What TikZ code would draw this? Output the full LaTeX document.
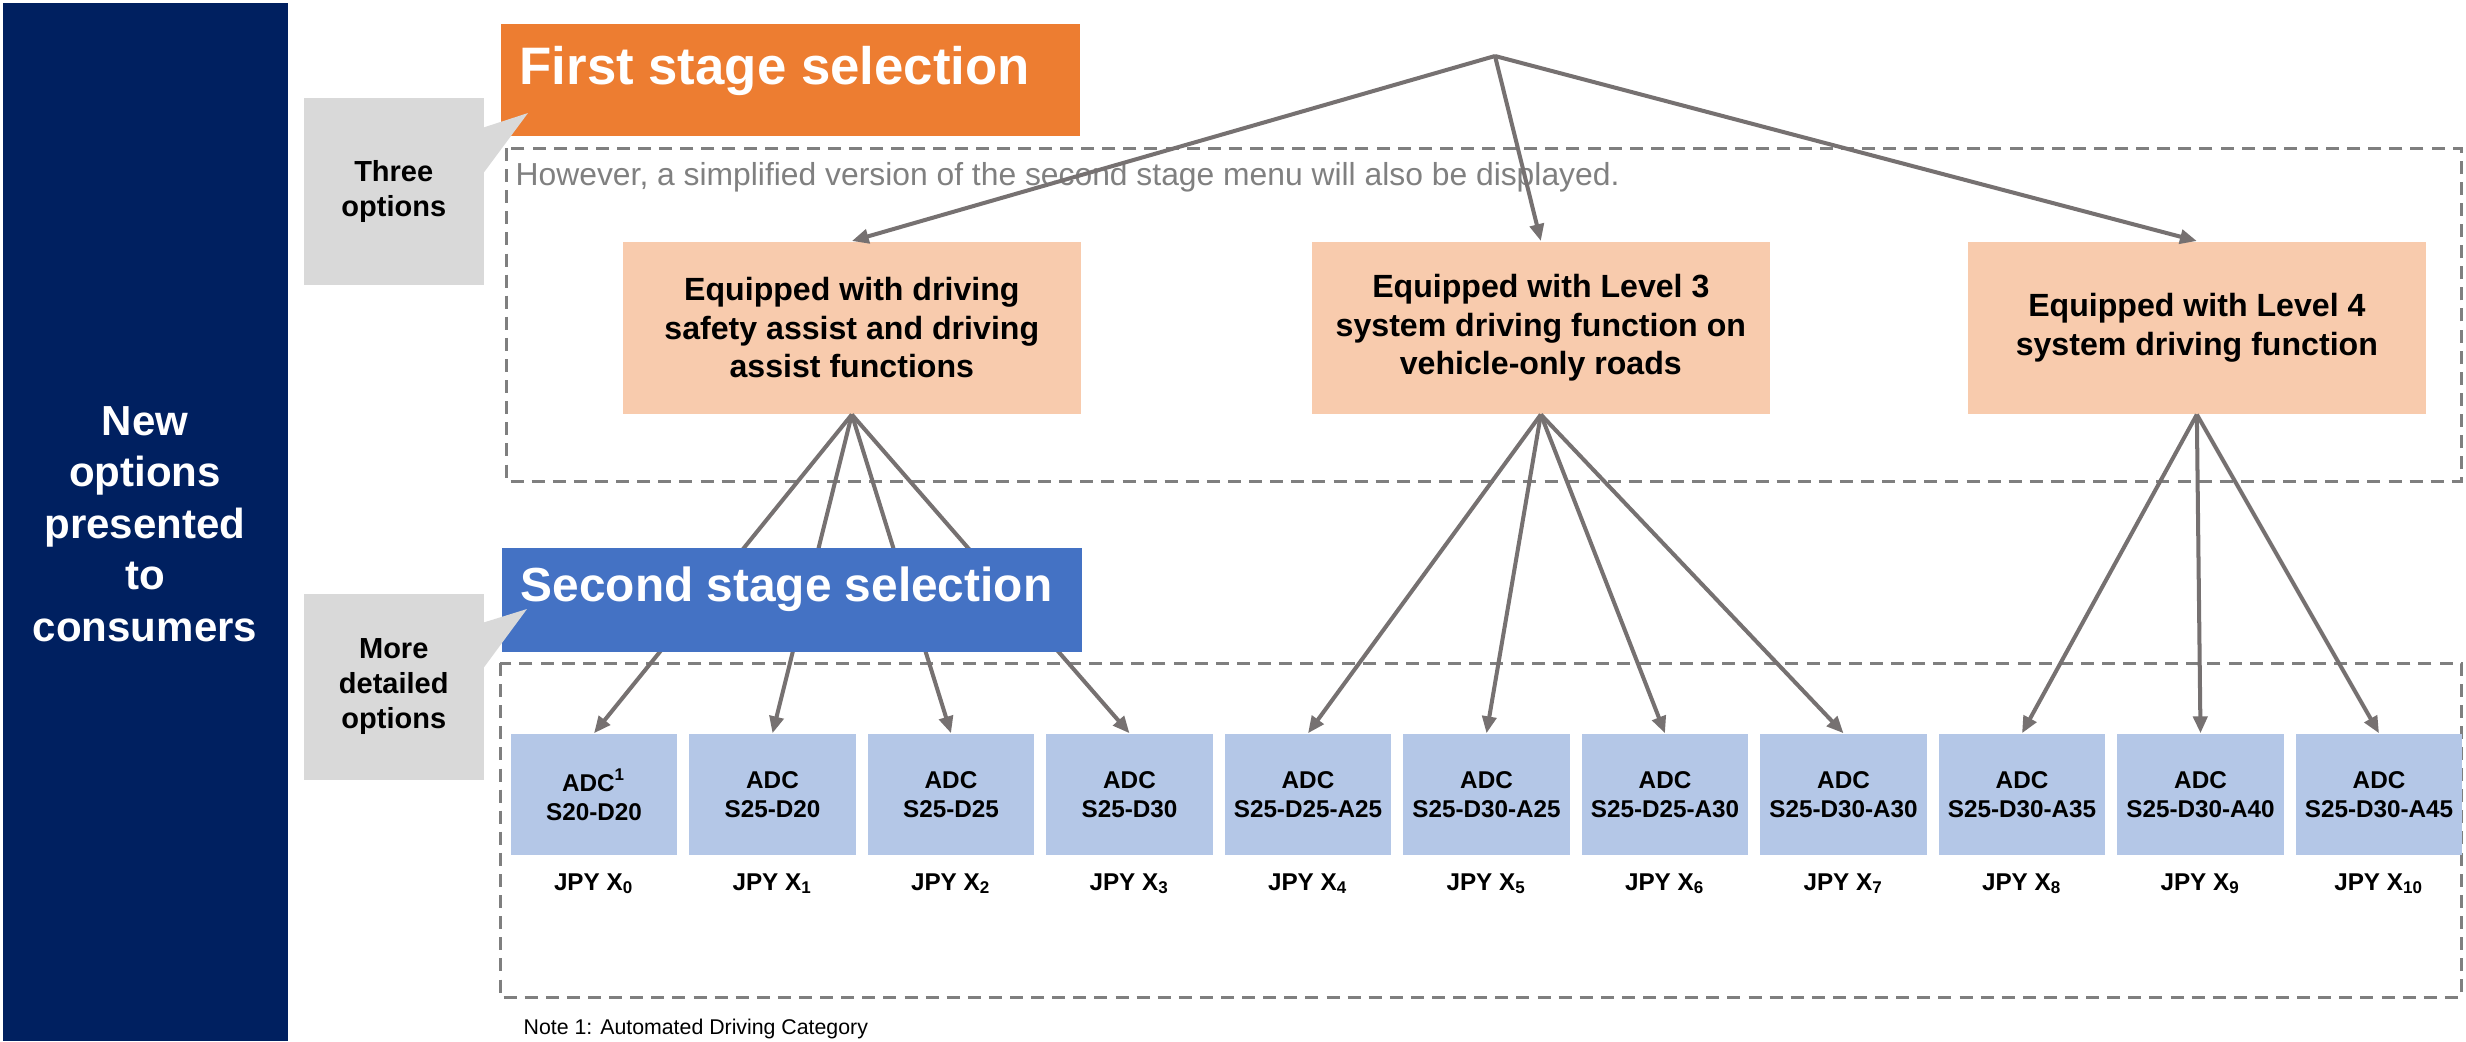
\documentclass[tikz,border=0pt]{standalone}
\usepackage{fontspec}
\setmainfont{Liberation Sans}
\usetikzlibrary{arrows.meta}
\definecolor{navy}{HTML}{002060}
\definecolor{orangeT}{HTML}{ED7D31}
\definecolor{orangeL}{HTML}{F8CBAD}
\definecolor{blueT}{HTML}{4472C4}
\definecolor{blueL}{HTML}{B4C7E7}
\definecolor{callgray}{HTML}{D9D9D9}
\definecolor{arrgray}{HTML}{767171}
\definecolor{dashgray}{HTML}{7F7F7F}
\definecolor{txtgray}{HTML}{808080}
\begin{document}
\begin{tikzpicture}[x=0.01cm,y=-0.01cm,
 arr/.style={draw=arrgray, line width=1.14pt, -{Triangle[length=4.8pt,width=4pt]}},
 dashbox/.style={draw=dashgray, line width=0.85pt, dash pattern=on 3.7pt off 2.3pt},
 optbox/.style={fill=orangeL, minimum width=4.58cm, minimum height=1.72cm, inner sep=0pt, align=center, anchor=north west, font=\bfseries\fontsize{9.13}{10.95}\selectfont},
 adcbox/.style={fill=blueL, minimum width=1.66cm, minimum height=1.21cm, inner sep=0pt, align=center, font=\bfseries\fontsize{6.9}{8.25}\selectfont},
 price/.style={inner sep=0pt, anchor=base, font=\bfseries\fontsize{6.9}{8.25}\selectfont},
 callout/.style={fill=callgray, minimum width=1.8cm, minimum height=1.87cm, anchor=north west, inner sep=0pt, align=center, font=\bfseries\fontsize{8.25}{10}\selectfont},
 titlebox/.style={minimum height=1.1cm, inner sep=0pt, anchor=north west},
 titletext/.style={anchor=base west, inner sep=0pt, text=white, font=\bfseries\fontsize{#1}{18}\selectfont},
 ]
\useasboundingbox (0,0) rectangle (2466,1041);
\clip (0,0) rectangle (2466,1041);
\fill[white] (0,0) rectangle (2466,1041);

% left navy band
\fill[navy] (3,3) rectangle (288,1041);
\node[inner sep=0pt, align=center, text=white, font=\bfseries\fontsize{11.95}{14.65}\selectfont] (side) at (145,524) {New\\options\\presented\\to\\consumers};

% dashed frames
\draw[dashbox] (506,148) rectangle (2461,481);
\draw[dashbox] (500,663) rectangle (2461,997);

% first stage title
\node[titlebox, fill=orangeT, minimum width=5.79cm, minimum height=1.12cm] (first) at (500,23) {};
\node[titletext=15] (firstlbl) at (519,84) {First stage selection};

% callout 1
\node[callout] (c1) at (303,97) {Three\\options};
\fill[callgray] (482,128) -- (528,113) -- (482,175) -- cycle;

% note in frame
\node[anchor=base west, inner sep=0pt, text=txtgray, font=\fontsize{9.05}{11}\selectfont] (hint) at (515,185) {However, a simplified version of the second stage menu will also be displayed.};

% first stage options
\node[optbox] (b1) at (622,241) {Equipped with driving\\safety assist and driving\\assist functions};
\node[optbox] (b2) at (1311,241) {Equipped with Level 3\\system driving function on\\vehicle-only roads};
\node[optbox] (b3) at (1967,241) {Equipped with Level 4\\system driving function};

% second stage options
\foreach \t [count=\i from 0] in {S20-D20,S25-D20,S25-D25,S25-D30,S25-D25-A25,S25-D30-A25,S25-D25-A30,S25-D30-A30,S25-D30-A35,S25-D30-A40,S25-D30-A45}{
  \node[adcbox] (a\i) at ({594+178.5*\i},794.5) {ADC\ifnum\i=0\textsuperscript{1}\fi\\\t};
  \node[price] (p\i) at ({594+178.5*\i},890) {JPY X\textsubscript{\i}};
}

% connectors
\coordinate (apex) at (1495,56);
\draw[arr] (apex) -- (b1.north);
\draw[arr] (apex) -- (b2.north);
\draw[arr] (apex) -- (b3.north);
\foreach \j in {0,...,3} \draw[arr] (b1.south) -- (a\j.north);
\foreach \j in {4,...,7} \draw[arr] (b2.south) -- (a\j.north);
\foreach \j in {8,9,10} \draw[arr] (b3.south) -- (a\j.north);

% second stage title
\node[titlebox, fill=blueT, minimum width=5.8cm, minimum height=1.04cm] (second) at (501,547) {};
\node[titletext=13.6] (secondlbl) at (520,601) {Second stage selection};

% callout 2
\node[callout, minimum height=1.86cm] (c2) at (303,593) {More\\detailed\\options};
\fill[callgray] (482,623) -- (527,609) -- (482,670) -- cycle;

% footnote
\node[anchor=base west, inner sep=0pt, font=\fontsize{6.06}{7}\selectfont] (note) at (523,1034) {Note 1: Automated Driving Category};
\end{tikzpicture}
\end{document}
